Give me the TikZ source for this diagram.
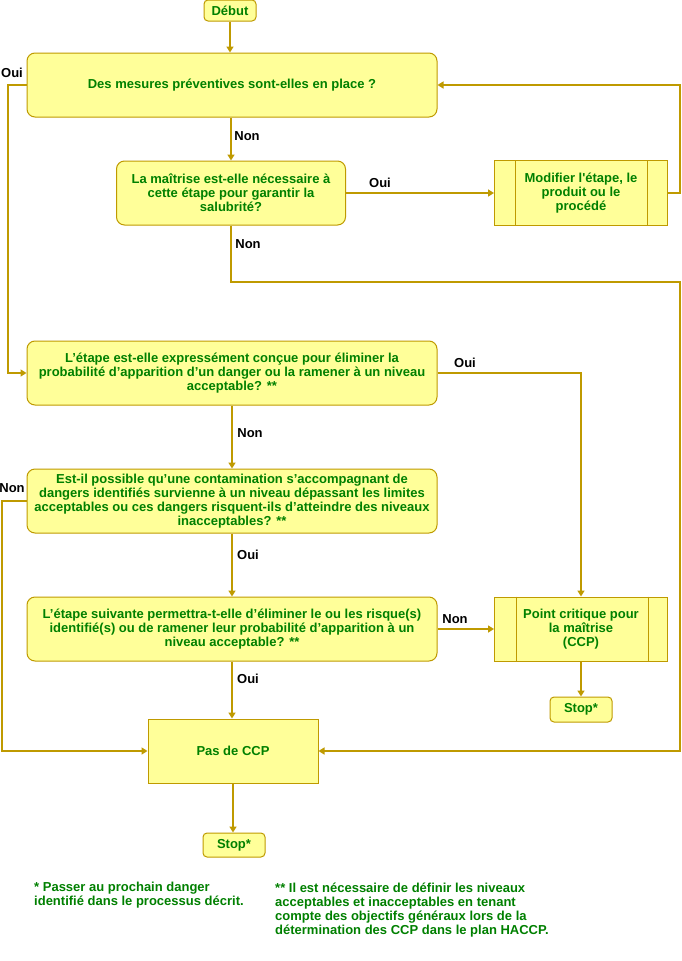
\documentclass[tikz,border=0pt]{standalone}
\usepackage{fontspec}
\setmainfont{Liberation Sans}
\usetikzlibrary{arrows.meta,calc}
\definecolor{boxfill}{HTML}{FFFF99}
\definecolor{gold}{HTML}{BF9A00}
\definecolor{txtgreen}{HTML}{008000}
\tikzset{
  base/.style={draw=gold, line width=1pt, fill=boxfill, text=txtgreen,
    font=\fontsize{13}{14}\selectfont\bfseries, align=center, inner sep=0pt},
  rbox/.style={base, rounded corners=8pt},
  tbox/.style={base, rounded corners=4pt},
  sbox/.style={base},
  conn/.style={draw=gold, line width=1.8pt},
  arr/.style={conn, -{Triangle[length=6pt,width=7pt]}},
  lbl/.style={font=\fontsize{13}{14}\selectfont\bfseries, text=black, inner sep=0pt},
  foot/.style={font=\fontsize{13}{14}\selectfont\bfseries, text=txtgreen, inner sep=0pt, align=left, anchor=north west},
}
\begin{document}
\begin{tikzpicture}[x=1pt,y=-1pt]
\useasboundingbox[fill=white] (0,0) rectangle (681,961);
% nodes
\node[tbox, minimum width=52pt, minimum height=21pt] (debut) at (230,10.5) {Début};
\node[rbox, minimum width=410pt, minimum height=64pt] (b1) at (232,85) {Des mesures préventives sont-elles en place ?};
\node[rbox, minimum width=229pt, minimum height=64pt] (b2) at (231,193) {La maîtrise est-elle nécessaire à\\cette étape pour garantir la\\salubrité?};
\node[sbox, minimum width=173pt, minimum height=65pt] (mod) at (581,193) {Modifier l\textquotesingle étape, le\\produit ou le\\procédé};
\node[rbox, minimum width=410pt, minimum height=64pt] (b3) at (232,373) {L’étape est-elle expressément conçue pour éliminer la\\probabilité d’apparition d’un danger ou la ramener à un niveau\\acceptable? **};
\node[rbox, minimum width=410pt, minimum height=64pt] (b4) at (232,501) {Est-il possible qu’une contamination s’accompagnant de\\dangers identifiés survienne à un niveau dépassant les limites\\acceptables ou ces dangers risquent-ils d’atteindre des niveaux\\inacceptables? **};
\node[rbox, minimum width=410pt, minimum height=64pt] (b5) at (232,629) {L’étape suivante permettra-t-elle d’éliminer le ou les risque(s)\\identifié(s) ou de ramener leur probabilité d’apparition à un\\niveau acceptable? **};
\node[sbox, minimum width=173pt, minimum height=64pt] (pc) at (581,629) {Point critique pour\\la maîtrise\\(CCP)};
\node[tbox, minimum width=62pt, minimum height=25pt] (stop1) at (581,709.5) {Stop*};
\node[sbox, minimum width=170pt, minimum height=64pt] (pas) at (233,751) {Pas de CCP};
\node[tbox, minimum width=62pt, minimum height=24pt] (stop2) at (234,845) {Stop*};
% inner lines of process boxes
\draw[gold, line width=1pt] ($(mod.north west)+(21,0)$) -- ($(mod.south west)+(21,0)$);
\draw[gold, line width=1pt] ($(mod.north east)+(-21,0)$) -- ($(mod.south east)+(-21,0)$);
\draw[gold, line width=1pt] ($(pc.north west)+(22,0)$) -- ($(pc.south west)+(22,0)$);
\draw[gold, line width=1pt] ($(pc.north east)+(-20,0)$) -- ($(pc.south east)+(-20,0)$);
% helper coordinates
\coordinate (lx1) at (8,0);
\coordinate (lx2) at (2,0);
\coordinate (rx) at (680,282);
% connectors
\draw[arr] (debut.south) -- (debut.south |- b1.north);
\draw[arr] (b2.north |- b1.south) -- (b2.north);
\draw[arr] (b2.east) -- (mod.west);
\draw[arr] (mod.east) -- ($(mod.east)+(12,0)$) |- (b1.east);
\draw[arr] (b2.south) |- (rx) |- (pas.east);
\draw[arr] (b1.west) -- (b1.west -| lx1) |- (b3.west);
\draw[arr] (b3.east) -| (pc.north);
\draw[arr] (b3.south) -- (b4.north);
\draw[arr] (b4.west) -- (b4.west -| lx2) |- (pas.west);
\draw[arr] (b4.south) -- (b5.north);
\draw[arr] (b5.east) -- (pc.west);
\draw[arr] (pc.south) -- (stop1.north);
\draw[arr] (b5.south) -- (b5.south |- pas.north);
\draw[arr] (pas.south) -- (pas.south |- stop2.north);
% labels
\node[lbl] (l1) at (12,73) {Oui};
\node[lbl] (l2) at (247,136) {Non};
\node[lbl] (l3) at (380,183) {Oui};
\node[lbl] (l4) at (248,244) {Non};
\node[lbl] (l5) at (465,363) {Oui};
\node[lbl] (l6) at (250,433) {Non};
\node[lbl] (l7) at (12,488) {Non};
\node[lbl] (l8) at (248,555) {Oui};
\node[lbl] (l9) at (455,619) {Non};
\node[lbl] (l10) at (248,679) {Oui};
% footnotes
\node[foot] (f1) at (34,882) {* Passer au prochain danger\\identifié dans le processus décrit.};
\node[foot] (f2) at (275,883) {** Il est nécessaire de définir les niveaux\\acceptables et inacceptables en tenant\\compte des objectifs généraux lors de la\\détermination des CCP dans le plan HACCP.};
\end{tikzpicture}
\end{document}
